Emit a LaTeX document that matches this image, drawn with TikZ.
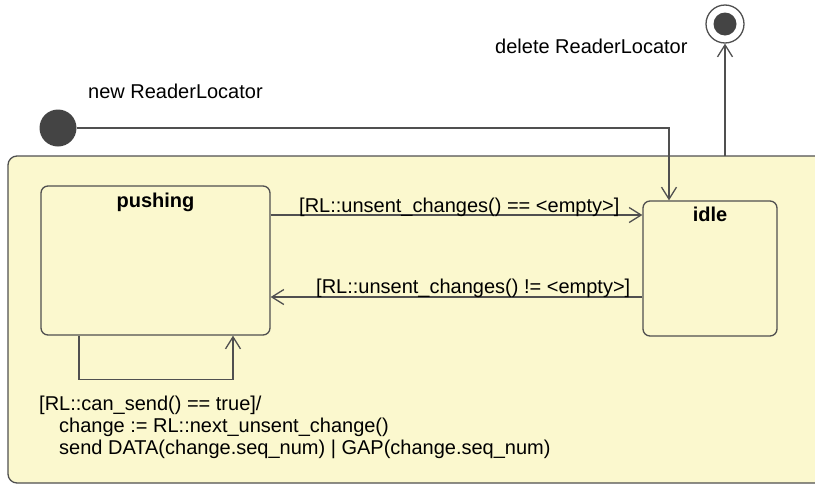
\documentclass[tikz,border=0pt]{standalone}
\usepackage{fontspec}
\setmainfont{Liberation Sans}
\usetikzlibrary{arrows.meta}

\definecolor{statefill}{RGB}{251,248,206}
\definecolor{stateline}{RGB}{80,80,80}
\definecolor{dotfill}{RGB}{68,68,68}

\tikzset{
  state/.style={rectangle, draw=stateline, fill=statefill, line width=1.3pt, rounded corners=7pt, inner sep=0pt},
  statename/.style={font=\fontsize{20}{22}\selectfont\bfseries, inner sep=0pt, anchor=base},
  trans/.style={draw=stateline, line width=1.3pt, -{Straight Barb[length=12pt,width=15pt]}},
  txt/.style={font=\fontsize{20}{22}\selectfont, inner sep=0pt, anchor=base west},
  startdot/.style={circle, fill=dotfill, minimum size=37pt, inner sep=0pt},
  enddot/.style={circle, draw=stateline, fill=white, line width=1.3pt, minimum size=38pt, inner sep=0pt},
}

\begin{document}
\begin{tikzpicture}[x=1pt, y=-1pt]
\useasboundingbox (0,0) rectangle (815,485);
\clip (0,0) rectangle (815,485);

% Composite state
\draw[state, rounded corners=9pt] (8,156) rectangle (840,483);
\coordinate (exit) at (725,156);

% Nodes
\node[startdot] (start) at (58,128) {};
\node[enddot] (stop) at (725,24) {};
\node[circle, fill=dotfill, minimum size=23pt, inner sep=0pt] (stop-core) at (stop) {};
\node[state, minimum width=229pt, minimum height=149pt] (pushing) at (155.5,260.5) {};
\node[state, minimum width=134pt, minimum height=135pt] (idle) at (710,268.5) {};
\node[statename] (pushing-name) at ([yshift=-22pt]pushing.north) {pushing};
\node[statename] (idle-name) at ([yshift=-21pt]idle.north) {idle};

% Links
\draw[trans] (start) -| ([xshift=-41pt]idle.north);
\draw[trans] (exit) -- (stop);
\draw[trans] (pushing.east |- 0,215) -- (idle.west |- 0,215);
\draw[trans] (idle.west |- 0,297) -- (pushing.east |- 0,297);
\draw[trans] ([xshift=-76.5pt]pushing.south) -- ++(0,44) -| ([xshift=77.5pt]pushing.south);

% Labels
\node[txt] (new-label) at (88,98) {new ReaderLocator};
\node[txt] (delete-label) at (495,53) {delete ReaderLocator};
\node[txt] (empty-label) at (299,212) {[RL::unsent\_changes() == <empty>]};
\node[txt] (notempty-label) at (316,293) {[RL::unsent\_changes() != <empty>]};
\node[txt, anchor=north west, align=left] (send-label) at (39,395.5)
  {[RL::can\_send() == true]/\\
   \hspace*{20pt}change := RL::next\_unsent\_change()\\
   \hspace*{20pt}send DATA(change.seq\_num) | GAP(change.seq\_num)};
\end{tikzpicture}
\end{document}
